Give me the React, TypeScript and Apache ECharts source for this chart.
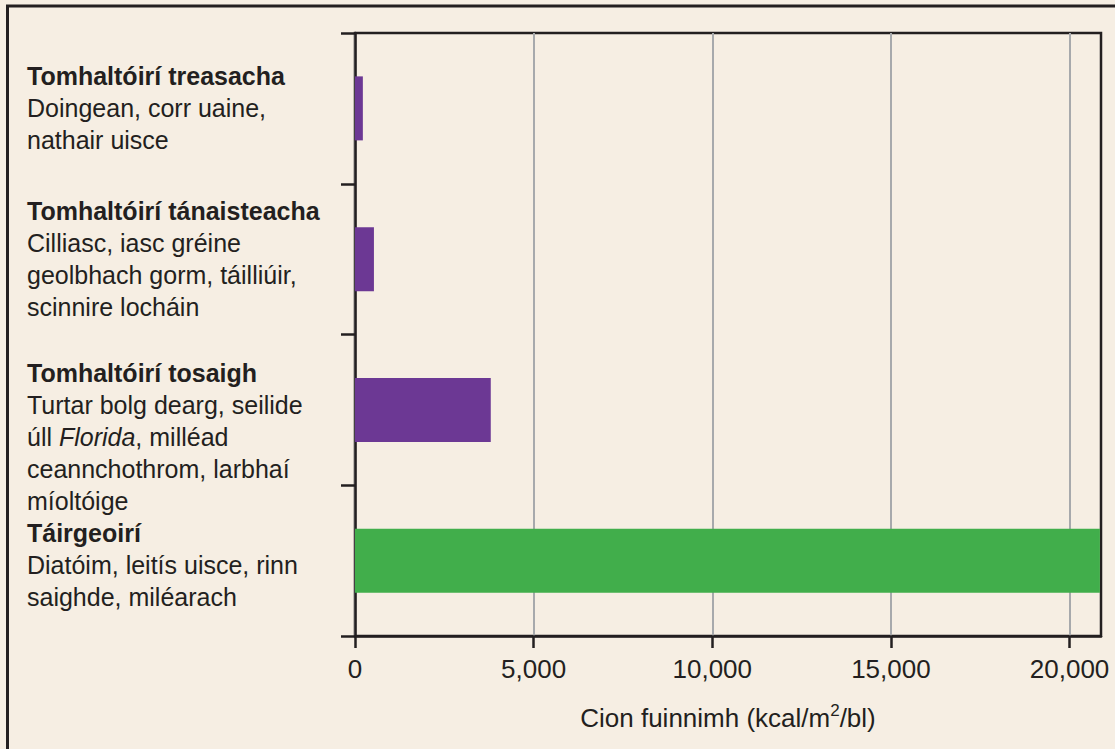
import React, { useEffect, useRef } from "react";
import * as echarts from "echarts";

// Categories, bottom to top (ECharts category y-axis starts at the bottom)
const categories = [
  "Táirgeoirí",
  "Tomhaltóirí tosaigh",
  "Tomhaltóirí tánaisteacha",
  "Tomhaltóirí treasacha",
];

// Example organisms per level (rich-text lines)
const descriptions = [
  ["{r|Diatóim, leitís uisce, rinn}", "{r|saighde, miléarach}"],
  [
    "{r|Turtar bolg dearg, seilide}",
    "{r|úll }{i|Florida}{r|, milléad}",
    "{r|ceannchothrom, larbhaí}",
    "{r|míoltóige}",
  ],
  ["{r|Cilliasc, iasc gréine}", "{r|geolbhach gorm, táilliúir,}", "{r|scinnire locháin}"],
  ["{r|Doingean, corr uaine,}", "{r|nathair uisce}"],
];

// Energy content (kcal/m²/yr)
const energyValues = [20850, 3800, 530, 220];

const xTicks = [0, 5000, 10000, 15000, 20000];
const xMax = 20880;

const INK = "#231F20";
const PURPLE = "#6C3894";
const GREEN = "#41AE4B";
const BG = "#F6EEE3";
const FONT = "'Liberation Sans', Arial, Helvetica, sans-serif";
const LABEL_SIZE = 25;

export default function App() {
  const ref = useRef<HTMLDivElement>(null);

  useEffect(() => {
    if (!ref.current) return;
    const chart = echarts.init(ref.current, null, { renderer: "svg" });

    const option = {
      animation: false,
      backgroundColor: BG,
      textStyle: { fontFamily: FONT },
      graphic: [
        {
          type: "rect",
          shape: { x: 7.5, y: 6, width: 1300, height: 900 },
          style: { fill: "none", stroke: INK, lineWidth: 3 },
          silent: true,
        },
      ],
      grid: {
        left: 355,
        right: 14,
        top: 33,
        bottom: 113,
        show: true,
        borderColor: INK,
        borderWidth: 2.5,
        backgroundColor: "transparent",
      },
      xAxis: {
        type: "value",
        min: 0,
        max: xMax,
        interval: 5000,
        axisLine: { show: true, lineStyle: { color: INK, width: 2.5 } },
        axisTick: {
          show: true,
          length: 12,
          customValues: xTicks,
          lineStyle: { color: INK, width: 2.5 },
        },
        axisLabel: {
          customValues: xTicks,
          margin: 20,
          color: INK,
          fontSize: 26,
          fontFamily: FONT,
          formatter: (v: number) => v.toLocaleString("en-US"),
        },
        splitLine: { show: true, lineStyle: { color: "#A7A9AC", width: 2 } },
        name: "{a|Cion fuinnimh (kcal/m}{s|2}{a|/bl)}",
        nameLocation: "middle",
        nameGap: 66,
        nameTextStyle: {
          rich: {
            a: { fontSize: 26, lineHeight: 32, color: INK, fontFamily: FONT },
            s: {
              fontSize: 17,
              lineHeight: 32,
              verticalAlign: "top",
              color: INK,
              fontFamily: FONT,
            },
          },
        },
      },
      yAxis: {
        type: "category",
        data: categories,
        axisLine: { show: true, lineStyle: { color: INK, width: 2.5 } },
        axisTick: { show: true, length: 14, lineStyle: { color: INK, width: 2.5 } },
        axisLabel: {
          interval: 0,
          align: "left",
          margin: 328,
          formatter: (value: string, idx: number) => {
            const lines = [`{b|${value}}`, ...descriptions[idx]];
            if (idx === 1) lines.unshift("{gap| }");
            if (idx === 0) lines.unshift("{gap2| }");
            return lines.join("\n");
          },
          rich: {
            b: {
              fontSize: LABEL_SIZE,
              fontWeight: "bold",
              lineHeight: 32,
              color: INK,
              fontFamily: FONT,
            },
            r: { fontSize: LABEL_SIZE, lineHeight: 32, color: INK, fontFamily: FONT },
            i: {
              fontSize: LABEL_SIZE,
              lineHeight: 32,
              fontStyle: "italic",
              color: INK,
              fontFamily: FONT,
            },
            gap: { fontSize: 2, lineHeight: 55 },
            gap2: { fontSize: 2, lineHeight: 8 },
          },
        },
        splitLine: { show: false },
      },
      series: [
        {
          type: "bar",
          barWidth: 64,
          data: energyValues.map((v, i) => ({
            value: v,
            itemStyle: { color: i === 0 ? GREEN : PURPLE },
          })),
        },
      ],
    };

    chart.setOption(option as any);
    return () => chart.dispose();
  }, []);

  return (
    <div
      ref={ref}
      style={{ position: "fixed", left: 0, top: 0, width: 1115, height: 749 }}
    />
  );
}
